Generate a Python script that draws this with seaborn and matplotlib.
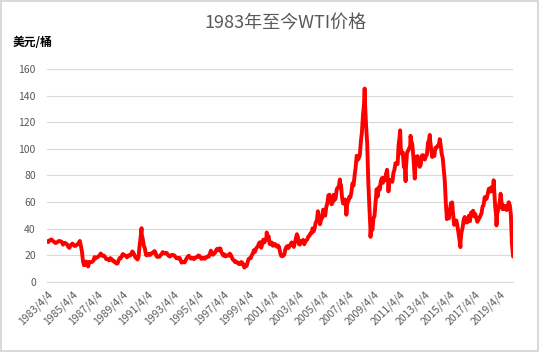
"""
1983年至今WTI价格 折线图
"""

import pandas as pd
import numpy as np
import matplotlib.pyplot as plt
import seaborn as sns

# 月度价格（美元/桶），从1983年4月起
wti_monthly = [
    30.6, 30.0, 31.0, 31.7, 31.9, 31.1, 30.4, 29.8, 29.2,
    29.7, 30.1, 30.8, 30.6, 30.5, 29.9, 28.0, 29.3, 29.3, 28.8, 28.1, 26.3,
    25.6, 27.3, 28.2, 28.8, 27.9, 27.1, 27.1, 27.8, 28.3, 29.5, 30.8, 27.2,
    22.9, 15.5, 12.6, 12.8, 15.4, 13.4, 11.6, 15.1, 14.9, 14.9, 15.2, 16.1,
    18.7, 17.7, 18.3, 18.6, 19.4, 20.0, 21.4, 20.3, 19.5, 19.8, 18.9, 17.3,
    17.1, 16.8, 16.2, 17.9, 17.4, 16.5, 15.5, 15.5, 14.5, 13.8, 14.0, 16.3,
    18.0, 17.8, 19.4, 21.0, 20.0, 20.0, 19.6, 18.5, 19.6, 20.1, 19.8, 21.1,
    22.9, 22.1, 20.4, 18.4, 18.2, 16.9, 18.6, 27.2, 33.7, 35.9, 32.3, 27.3,
    25.2, 20.5, 19.9, 20.8, 21.2, 20.2, 21.4, 21.7, 21.9, 23.2, 22.5, 19.5,
    18.8, 19.0, 18.9, 20.2, 20.9, 22.4, 21.8, 21.4, 21.9, 21.7, 20.3, 19.4,
    19.1, 20.1, 20.3, 20.3, 19.9, 19.1, 17.9, 18.0, 17.5, 18.2, 16.7, 14.5,
    15.0, 14.8, 14.7, 16.4, 17.9, 19.1, 19.7, 18.4, 17.5, 17.7, 18.1, 17.2,
    18.0, 18.5, 18.6, 19.9, 19.7, 18.5, 17.3, 17.9, 18.2, 17.4, 18.0, 19.0,
    18.9, 19.1, 21.3, 23.5, 21.2, 20.4, 21.3, 22.0, 24.0, 24.9, 23.7, 25.2,
    25.1, 22.2, 20.9, 19.7, 20.8, 19.2, 19.6, 19.9, 19.8, 21.3, 20.2, 18.3,
    16.7, 16.1, 15.0, 15.4, 14.9, 13.7, 14.1, 13.4, 15.0, 14.4, 12.9, 11.3,
    12.5, 12.0, 14.7, 17.3, 17.8, 17.9, 20.1, 21.3, 23.9, 22.6, 25.0, 26.1,
    27.2, 29.4, 29.9, 25.7, 28.8, 31.8, 29.7, 31.3, 33.9, 33.1, 34.4, 28.5,
    29.6, 29.6, 27.2, 27.4, 28.6, 27.6, 26.4, 27.4, 26.2, 22.2, 19.6, 19.3,
    19.7, 20.7, 24.5, 26.2, 27.0, 25.5, 26.9, 28.4, 29.7, 28.9, 26.3, 29.4,
    32.9, 35.9, 33.6, 28.3, 28.1, 30.7, 30.8, 31.6, 28.3, 30.3, 31.1, 32.1,
    34.3, 34.7, 36.7, 36.7, 40.3, 38.0, 40.7, 44.9, 45.9, 53.1, 48.5, 43.3,
    46.8, 48.0, 54.3, 53.0, 49.8, 56.3, 59.0, 65.0, 65.6, 62.4, 58.3, 59.4,
    65.5, 61.6, 62.9, 69.7, 70.9, 71.0, 74.4, 73.0, 63.8, 58.9, 59.1, 62.0,
    54.5, 59.3, 60.4, 64.0, 63.5, 67.5, 74.1, 72.4, 79.9, 85.8, 94.8, 91.7,
    93.0, 95.4, 105.5, 112.6, 125.4, 133.9, 133.4, 116.7, 104.1, 76.6, 57.3, 41.1,
    41.7, 39.1, 47.9, 49.6, 59.0, 69.6, 64.2, 71.1, 69.4, 75.7, 78.0, 74.5,
    78.3, 76.4, 81.2, 84.3, 73.7, 75.3, 76.3, 76.6, 75.2, 81.9, 84.3, 89.2,
    89.2, 88.6, 102.9, 109.5, 100.9, 96.3, 97.3, 86.3, 85.5, 86.3, 97.2, 98.6,
    100.3, 102.2, 106.2, 103.3, 94.7, 82.3, 87.9, 94.1, 94.5, 89.5, 86.5, 87.9,
    94.8, 95.3, 92.9, 92.0, 94.5, 95.8, 104.6, 106.6, 106.3, 100.5, 93.9, 97.6,
    94.6, 100.8, 100.8, 102.1, 102.2, 105.8, 103.6, 96.5, 93.2, 84.4, 75.8, 59.3,
    47.2, 50.6, 47.8, 54.5, 59.3, 59.8, 50.9, 42.9, 45.5, 46.2, 42.4, 37.2,
    31.7, 30.3, 37.5, 40.8, 46.7, 48.8, 44.7, 44.7, 45.2, 49.8, 45.7, 52.0,
    52.5, 53.5, 49.3, 51.1, 48.5, 45.2, 46.6, 48.0, 49.8, 51.6, 56.6, 57.9,
    63.7, 62.2, 62.7, 66.3, 70.0, 67.9, 71.0, 68.1, 70.2, 70.8, 57.0, 49.5,
    51.4, 55.0, 58.2, 63.9, 60.8, 54.7, 57.4, 54.8, 57.0, 54.0, 57.0, 59.9,
    57.5, 50.5, 29.2,
]

# 日度极值点
spike_dates = ['1983-04-04', '1990-10-11', '1998-12-10', '2000-09-20',
               '2006-07-14', '2007-01-18', '2008-07-03', '2008-12-19',
               '2010-05-25', '2011-04-29', '2011-10-04', '2012-02-24',
               '2012-06-27', '2013-09-06', '2014-06-20', '2016-02-11',
               '2018-10-03', '2018-12-24', '2019-04-23', '2020-04-20']
spike_values = [30.6, 40.4, 10.8, 37.2,
                77.0, 50.5, 145.3, 33.9,
                68.0, 113.9, 75.7, 109.8,
                77.7, 110.5, 107.3, 26.2,
                76.4, 42.5, 66.3, 19.0]

tick_dates = ['%d-04-04' % y for y in range(1983, 2020, 2)]
tick_labels = ['%d/4/4' % y for y in range(1983, 2020, 2)]

months = pd.date_range('1983-04-01', periods=len(wti_monthly), freq='MS') + pd.Timedelta(days=14)
df = pd.concat([
    pd.DataFrame({'date': months, 'price': wti_monthly}),
    pd.DataFrame({'date': pd.to_datetime(spike_dates), 'price': spike_values}),
]).sort_values('date').reset_index(drop=True)

sns.set_theme(style='white')
plt.rcParams['font.family'] = ['Noto Sans CJK SC', 'DejaVu Sans']
plt.rcParams['axes.unicode_minus'] = False

fig = plt.figure(figsize=(5.39, 3.52), dpi=100, edgecolor='#d9d9d9', linewidth=1.5)
ax = fig.add_axes([0.087, 0.199, 0.865, 0.605])

sns.lineplot(data=df, x='date', y='price', color='#ff0000', linewidth=2.8, ax=ax)

ax.set_xlim(pd.Timestamp('1983-04-04'), pd.Timestamp('2020-04-20'))
ax.set_ylim(0, 160)
ax.set_yticks(range(0, 161, 20))
ax.set_xticks(pd.to_datetime(tick_dates))
ax.set_xticklabels(tick_labels, rotation=45, ha='right', rotation_mode='anchor')
ax.set_xlabel('')
ax.set_ylabel('')

ax.yaxis.grid(True, color='#d9d9d9', linewidth=0.8)
ax.xaxis.grid(False)
ax.set_axisbelow(True)
for s in ['left', 'top', 'right']:
    ax.spines[s].set_visible(False)
ax.spines['bottom'].set_color('#d9d9d9')
ax.spines['bottom'].set_linewidth(0.8)
ax.tick_params(axis='y', length=0, pad=8, labelsize=7.5, labelcolor='#595959')
ax.tick_params(axis='x', length=0, pad=5, labelsize=7.5, labelcolor='#595959')

fig.text(0.529, 0.932, '1983年至今WTI价格', ha='center', va='center',
         fontsize=13, color='#595959')
fig.text(0.024, 0.878, '美元/桶', ha='left', va='center',
         fontsize=8.5, fontweight='bold', color='black')

fig.savefig('out.png', dpi=100, edgecolor=fig.get_edgecolor())
